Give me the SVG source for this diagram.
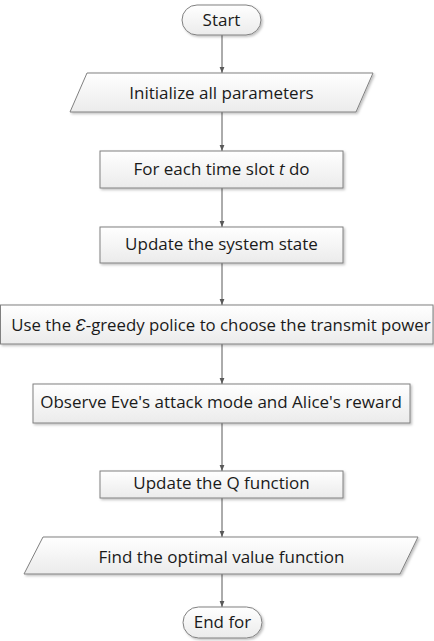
<svg xmlns="http://www.w3.org/2000/svg" width="434" height="641" viewBox="0 0 434 641">
<defs>
<linearGradient id="g" x1="0" y1="0" x2="0" y2="1">
<stop offset="0" stop-color="#ffffff"/>
<stop offset="1" stop-color="#ebebeb"/>
</linearGradient>
<filter id="sh" x="-5%" y="-20%" width="110%" height="150%">
<feDropShadow dx="1.5" dy="1.5" stdDeviation="0.8" flood-color="#000" flood-opacity="0.25"/>
</filter>
<marker id="ah" viewBox="0 0 10 10" refX="10" refY="5" markerWidth="6" markerHeight="6" orient="auto" markerUnits="userSpaceOnUse">
<path d="M0,1 L10,5 L0,9 z" fill="#595959"/>
</marker>
</defs>
<style>
.n{fill:url(#g);stroke:#808080;stroke-width:1;filter:url(#sh)}
.t{font-family:"Open Sans","Liberation Sans",sans-serif;font-size:17px;fill:#1a1a1a;text-anchor:middle}
.c{stroke:#595959;stroke-width:1;fill:none;marker-end:url(#ah)}
</style>
<rect width="434" height="641" fill="#fff"/>
<g id="connectors">
<line class="c" x1="222" y1="35" x2="222" y2="73"/>
<line class="c" x1="222" y1="112" x2="222" y2="151"/>
<line class="c" x1="222" y1="188" x2="222" y2="227"/>
<line class="c" x1="222" y1="263" x2="222" y2="305"/>
<line class="c" x1="222" y1="344" x2="222" y2="384"/>
<line class="c" x1="222" y1="423" x2="222" y2="471"/>
<line class="c" x1="222" y1="498" x2="222" y2="537"/>
<line class="c" x1="222" y1="574" x2="222" y2="607"/>
</g>
<g id="start">
<rect class="n" x="182" y="5" width="79" height="30" rx="15" ry="15"/>
<text class="t" x="221.5" y="26">Start</text>
</g>
<g id="init">
<polygon class="n" points="87,73 373,73 356,112 70,112"/>
<text class="t" x="221.5" y="99">Initialize all parameters</text>
</g>
<g id="foreach">
<rect class="n" x="100" y="151" width="243" height="37"/>
<text class="t" x="221.5" y="174.5">For each time slot <tspan font-style="italic">t</tspan> do</text>
</g>
<g id="update-state">
<rect class="n" x="100" y="227" width="243" height="36"/>
<text class="t" x="221.5" y="250">Update the system state</text>
</g>
<g id="egreedy">
<rect class="n" x="0.5" y="305" width="432.5" height="39"/>
<text class="t" x="221" y="331" style="font-size:16.8px">Use the <tspan font-style="italic">Ɛ</tspan>-greedy police to choose the transmit power</text>
</g>
<g id="observe">
<rect class="n" x="33" y="384" width="377" height="39"/>
<text class="t" x="221" y="408">Observe Eve's attack mode and Alice's reward</text>
</g>
<g id="update-q">
<rect class="n" x="100" y="471" width="243" height="27"/>
<text class="t" x="221.5" y="489">Update the Q function</text>
</g>
<g id="find">
<polygon class="n" points="43,537 418,537 400,574 24,574"/>
<text class="t" x="221.5" y="563">Find the optimal value function</text>
</g>
<g id="endfor">
<rect class="n" x="183" y="607" width="79" height="31" rx="15.5" ry="15.5"/>
<text class="t" x="222.5" y="628">End for</text>
</g>
</svg>
